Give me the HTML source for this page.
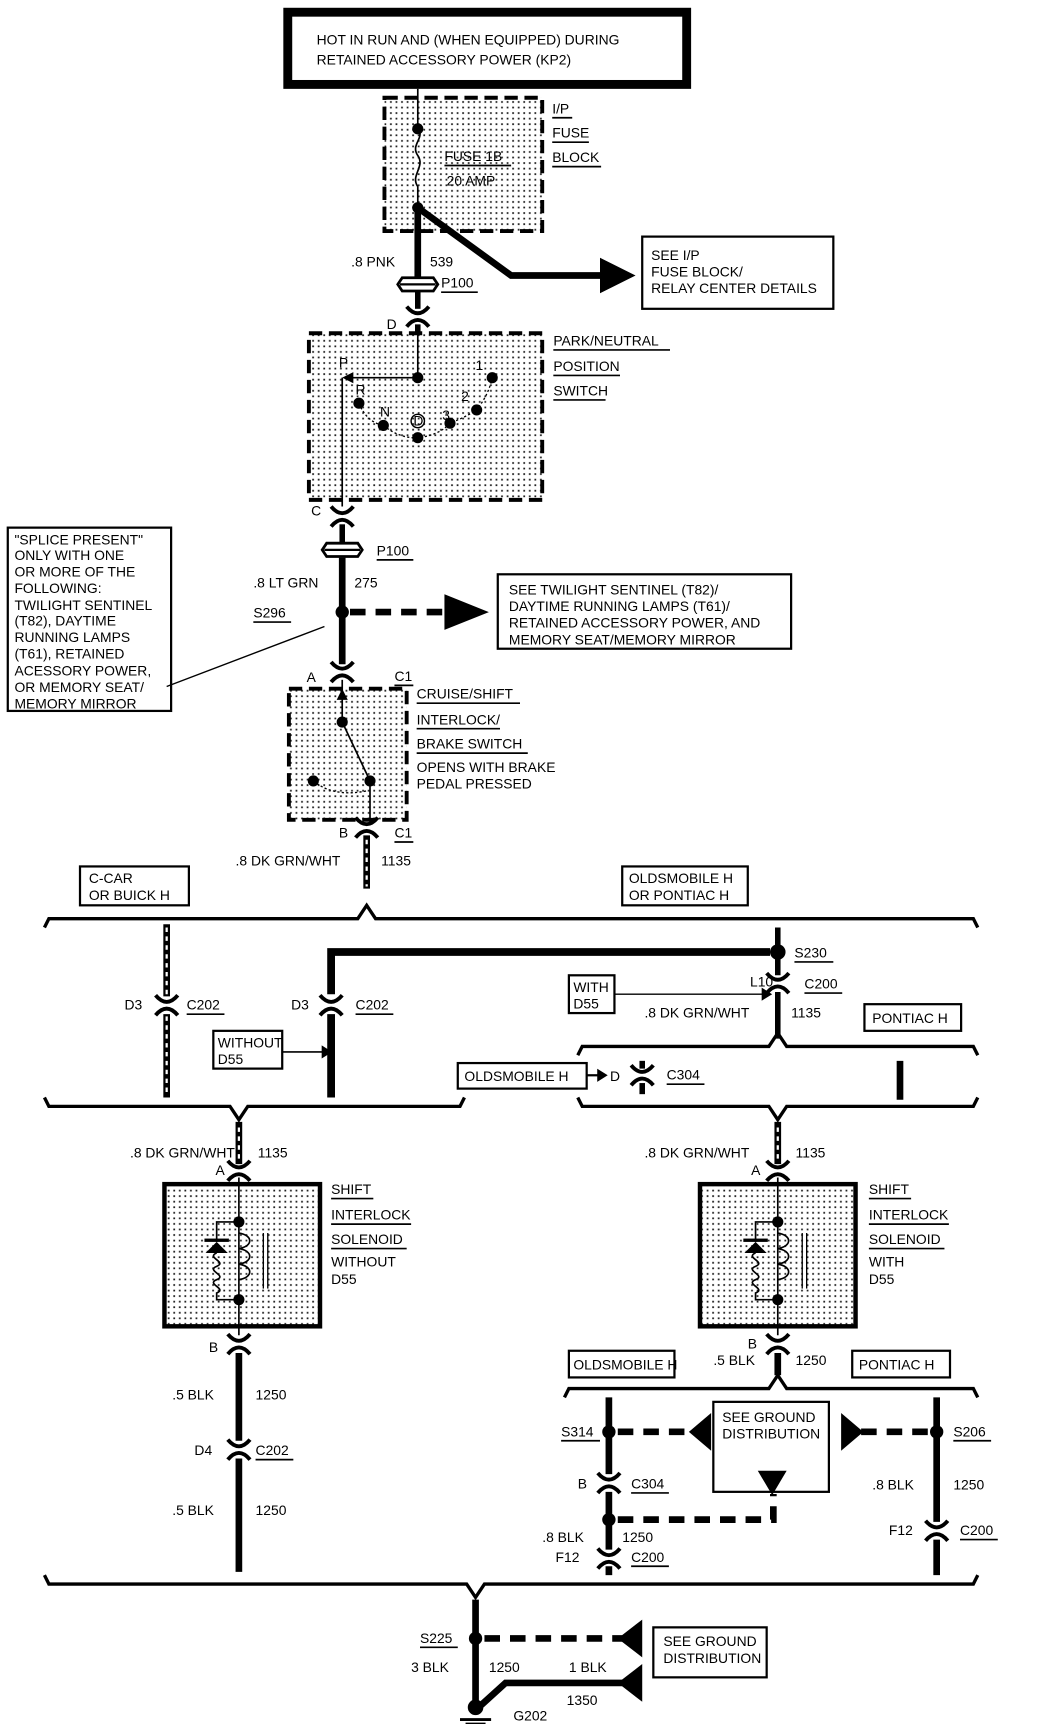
<!DOCTYPE html>
<html><head><meta charset="utf-8"><style>
html,body{margin:0;padding:0;background:#fff}
svg{display:block}
text{font-family:"Liberation Sans",sans-serif;font-size:12.5px;fill:#000}
</style></head><body>
<svg width="1040" height="1724" viewBox="0 0 936 1552" preserveAspectRatio="none" xmlns="http://www.w3.org/2000/svg">
<defs>
<pattern id="st" width="5" height="5" patternUnits="userSpaceOnUse"><rect width="5" height="5" fill="#fff"/><rect x="1" y="1" width="1.6" height="1.6" fill="#222"/></pattern>
<g id="cn"><path d="M-10,-9 Q0,3 10,-9" fill="none" stroke="#000" stroke-width="3.5"/><path d="M-10,9 Q0,-3 10,9" fill="none" stroke="#000" stroke-width="3.5"/></g>
<g id="pc"><path d="M-14,-4 L14,-4 L18,2 L14,8 L-14,8 L-18,2 Z" fill="#fff" stroke="#000" stroke-width="2.5"/><line x1="-16" y1="2" x2="16" y2="2" stroke="#000" stroke-width="2"/></g>
</defs>
<g stroke="#000" fill="none">
<rect x="259" y="11" width="359" height="65" stroke-width="8"/>
<rect x="346" y="88" width="142" height="120" fill="url(#st)" stroke-width="3.5" stroke-dasharray="12,6"/>
<line x1="376" y1="80" x2="376" y2="112" stroke-width="1.5"/>
<path d="M376,116 C383,124 369,130 376,140 C383,150 369,158 376,168 L376,187" stroke-width="1.5"/>
<line x1="376" y1="187" x2="376" y2="252" stroke-width="6"/>
<path d="M376,187 L460,248 L540,248" stroke-width="6"/>
<rect x="578" y="213" width="172" height="65" stroke-width="2"/>
<line x1="376" y1="262" x2="376" y2="278" stroke-width="5"/>
<line x1="376" y1="292" x2="376" y2="300" stroke-width="5"/>
<rect x="278" y="300" width="210" height="150" fill="url(#st)" stroke-width="3.5" stroke-dasharray="12,6"/>
<line x1="376" y1="300" x2="376" y2="340" stroke-width="1.5"/>
<line x1="376" y1="340" x2="312" y2="340" stroke-width="1.5"/>
<line x1="308" y1="340" x2="308" y2="456" stroke-width="1.5"/>
<path d="M323,363 Q330,380 345,383" stroke-width="1.2" stroke-dasharray="2,2"/>
<path d="M345,383 Q360,395 376,394 Q395,392 405,381 Q420,375 429,369 Q440,355 443,340" stroke-width="1.2" stroke-dasharray="2,2"/>
<circle cx="376" cy="379" r="6" stroke-width="1.3"/>
<line x1="308" y1="472" x2="308" y2="490" stroke-width="5"/>
<line x1="308" y1="502" x2="308" y2="598" stroke-width="6"/>
<path d="M315,551 L400,551" stroke-width="6" stroke-dasharray="14,9"/>
<rect x="448" y="517" width="264" height="67" stroke-width="2"/>
<rect x="7" y="475" width="147" height="165" stroke-width="2"/>
<line x1="150" y1="618" x2="292" y2="564" stroke-width="1.3"/>
<rect x="260" y="620" width="106" height="118" fill="url(#st)" stroke-width="3.5" stroke-dasharray="12,6"/>
<line x1="308" y1="612" x2="308" y2="650" stroke-width="1.5"/>
<line x1="308" y1="650" x2="333" y2="703" stroke-width="1.5"/>
<path d="M282,703 Q300,718 330,712" stroke-width="1.2" stroke-dasharray="2,2"/>
<line x1="333" y1="703" x2="333" y2="740" stroke-width="1.5"/>
<line x1="330" y1="752" x2="330" y2="800" stroke-width="6"/>
<line x1="330" y1="756" x2="330" y2="798" stroke="#fff" stroke-width="2" stroke-dasharray="4,4"/>
<rect x="72" y="780" width="98" height="35" stroke-width="2"/>
<rect x="560" y="780" width="113" height="35" stroke-width="2"/>
<path d="M40,835 L44,827 L322,827 L330,815 L338,827 L876,827 L880,835" stroke-width="3"/>
<line x1="150" y1="832" x2="150" y2="897" stroke-width="6"/><line x1="150" y1="913" x2="150" y2="988" stroke-width="6"/>
<line x1="150" y1="835" x2="150" y2="895" stroke="#fff" stroke-width="2" stroke-dasharray="4,4"/>
<line x1="150" y1="915" x2="150" y2="985" stroke="#fff" stroke-width="2" stroke-dasharray="4,4"/>
<path d="M298,895 L298,857 L693,857" stroke-width="7"/>
<line x1="298" y1="913" x2="298" y2="988" stroke-width="7"/>
<rect x="192" y="928" width="62" height="34" stroke-width="2"/>
<line x1="254" y1="947" x2="290" y2="947" stroke-width="1.5"/>
<path d="M290,942 L298,947 L290,952 Z" fill="#000"/>
<line x1="700" y1="835" x2="700" y2="878" stroke-width="5"/>
<line x1="700" y1="893" x2="700" y2="935" stroke-width="5"/>
<rect x="512" y="878" width="41" height="34" stroke-width="2"/>
<line x1="553" y1="895" x2="686" y2="895" stroke-width="1.3"/>
<path d="M686,890 L694,895 L686,900 Z" fill="#000"/>
<rect x="778" y="904" width="87" height="24" stroke-width="2"/>
<path d="M520,950 L524,942 L692,942 L700,930 L708,942 L876,942 L880,950" stroke-width="3"/>
<rect x="412" y="957" width="116" height="23" stroke-width="2"/>
<line x1="528" y1="968" x2="540" y2="968" stroke-width="2"/>
<path d="M538,963 L546,968 L538,973 Z" fill="#000"/>
<line x1="578" y1="955" x2="578" y2="962" stroke-width="5"/>
<line x1="578" y1="975" x2="578" y2="985" stroke-width="5"/>
<line x1="810" y1="955" x2="810" y2="990" stroke-width="6"/>
<path d="M40,988 L44,996 L207,996 L215,1008 L223,996 L414,996 L418,988" stroke-width="3"/>
<path d="M520,988 L524,996 L692,996 L700,1008 L708,996 L876,996 L880,988" stroke-width="3"/>
<line x1="215" y1="1010" x2="215" y2="1048" stroke-width="6"/>
<line x1="215" y1="1015" x2="215" y2="1045" stroke="#fff" stroke-width="2" stroke-dasharray="4,4"/>
<rect x="148" y="1066" width="140" height="128" fill="url(#st)" stroke-width="4"/>
<line x1="215" y1="1060" x2="215" y2="1202" stroke-width="1.5"/>
<path d="M215,1100 L195,1100 L195,1118 M195,1128 C185,1132 205,1136 195,1140 C185,1144 205,1148 195,1152 C185,1156 205,1160 195,1164 L195,1170 L215,1170" stroke-width="1.5"/>
<path d="M215,1110 C228,1112 228,1122 215,1124 C228,1126 228,1136 215,1138 C228,1140 228,1150 215,1152" stroke-width="1.5"/>
<line x1="237" y1="1110" x2="237" y2="1160" stroke-width="1.2"/><line x1="241" y1="1110" x2="241" y2="1160" stroke-width="1.2"/>
<line x1="215" y1="1218" x2="215" y2="1297" stroke-width="6"/>
<line x1="215" y1="1313" x2="215" y2="1415" stroke-width="6"/>
<line x1="700" y1="1010" x2="700" y2="1048" stroke-width="6"/>
<line x1="700" y1="1015" x2="700" y2="1045" stroke="#fff" stroke-width="2" stroke-dasharray="4,4"/>
<rect x="630" y="1066" width="140" height="128" fill="url(#st)" stroke-width="4"/>
<line x1="700" y1="1060" x2="700" y2="1202" stroke-width="1.5"/>
<path d="M700,1100 L680,1100 L680,1118 M680,1128 C670,1132 690,1136 680,1140 C670,1144 690,1148 680,1152 C670,1156 690,1160 680,1164 L680,1170 L700,1170" stroke-width="1.5"/>
<path d="M700,1110 C713,1112 713,1122 700,1124 C713,1126 713,1136 700,1138 C713,1140 713,1150 700,1152" stroke-width="1.5"/>
<line x1="722" y1="1110" x2="722" y2="1160" stroke-width="1.2"/><line x1="726" y1="1110" x2="726" y2="1160" stroke-width="1.2"/>
<line x1="700" y1="1218" x2="700" y2="1238" stroke-width="6"/>
<rect x="512" y="1216" width="95" height="24" stroke-width="2"/>
<rect x="767" y="1216" width="88" height="24" stroke-width="2"/>
<path d="M508,1258 L512,1250 L692,1250 L700,1238 L708,1250 L876,1250 L880,1258" stroke-width="3"/>
<line x1="548" y1="1258" x2="548" y2="1327" stroke-width="6"/>
<line x1="548" y1="1343" x2="548" y2="1395" stroke-width="6"/>
<line x1="548" y1="1410" x2="548" y2="1418" stroke-width="6"/>
<line x1="843" y1="1258" x2="843" y2="1370" stroke-width="6"/>
<line x1="843" y1="1386" x2="843" y2="1418" stroke-width="6"/>
<path d="M556,1289 L620,1289" stroke-width="6" stroke-dasharray="14,9"/>
<path d="M775,1289 L835,1289" stroke-width="6" stroke-dasharray="14,9"/>
<rect x="642" y="1262" width="104" height="81" stroke-width="2"/>
<path d="M556,1368 L696,1368 L696,1345" stroke-width="6" stroke-dasharray="14,9"/>
<path d="M40,1418 L44,1426 L420,1426 L428,1438 L436,1426 L876,1426 L880,1418" stroke-width="3"/>
<line x1="428" y1="1440" x2="428" y2="1540" stroke-width="6"/>
<path d="M436,1475 L560,1475" stroke-width="6" stroke-dasharray="14,9"/>
<path d="M433,1535 L455,1515 L560,1515" stroke-width="6"/>
<rect x="588" y="1465" width="102" height="45" stroke-width="2"/>
<line x1="414" y1="1548" x2="442" y2="1548" stroke-width="2.5"/>
<line x1="419" y1="1552" x2="437" y2="1552" stroke-width="2.5"/>
</g>
<g fill="#000">
<circle cx="376" cy="116" r="5"/><circle cx="376" cy="187" r="5"/>
<path d="M540,232 L572,248 L540,264 Z"/>
<circle cx="376" cy="340" r="5"/><path d="M308,340 L318,335 L318,345 Z"/>
<circle cx="323" cy="363" r="5"/><circle cx="345" cy="383" r="5"/><circle cx="376" cy="394" r="5"/>
<circle cx="405" cy="381" r="5"/><circle cx="429" cy="369" r="5"/><circle cx="443" cy="340" r="5"/>
<circle cx="308" cy="551" r="6"/><path d="M400,535 L440,551 L400,567 Z"/>
<path d="M308,620 L303,630 L313,630 Z"/>
<circle cx="308" cy="650" r="5"/><circle cx="282" cy="703" r="5"/><circle cx="333" cy="703" r="5"/>
<circle cx="700" cy="857" r="7"/>
<circle cx="215" cy="1100" r="5"/><circle cx="215" cy="1170" r="5"/>
<path d="M195,1118 L185,1128 L205,1128 Z"/><rect x="184" y="1115" width="22" height="3"/>
<circle cx="700" cy="1100" r="5"/><circle cx="700" cy="1170" r="5"/>
<path d="M680,1118 L670,1128 L690,1128 Z"/><rect x="669" y="1115" width="22" height="3"/>
<circle cx="548" cy="1289" r="6"/><circle cx="843" cy="1289" r="6"/><circle cx="548" cy="1368" r="6"/>
<path d="M640,1272 L620,1289 L640,1306 Z"/><path d="M757,1272 L777,1289 L757,1306 Z"/>
<path d="M682,1324 L708,1324 L695,1346 Z"/>
<circle cx="428" cy="1475" r="6"/><circle cx="428" cy="1537" r="7"/>
<path d="M578,1458 L556,1475 L578,1492 Z"/><path d="M578,1498 L556,1515 L578,1532 Z"/>
</g>
<use href="#pc" x="376" y="254"/><use href="#pc" x="308" y="493"/>
<use href="#cn" x="376" y="285"/><use href="#cn" x="308" y="465"/>
<use href="#cn" x="308" y="605"/><use href="#cn" x="330" y="745"/>
<use href="#cn" x="150" y="905"/><use href="#cn" x="298" y="905"/>
<use href="#cn" x="700" y="885"/><use href="#cn" x="578" y="968"/>
<use href="#cn" x="215" y="1054"/><use href="#cn" x="215" y="1210"/>
<use href="#cn" x="700" y="1054"/><use href="#cn" x="700" y="1210"/>
<use href="#cn" x="215" y="1305"/><use href="#cn" x="548" y="1335"/>
<use href="#cn" x="548" y="1403"/><use href="#cn" x="843" y="1378"/>
<g>
<text x="285" y="40">HOT IN RUN AND (WHEN EQUIPPED) DURING</text>
<text x="285" y="58">RETAINED ACCESSORY POWER (KP2)</text>
<text x="400" y="145">FUSE 1B</text><text x="402" y="167">20 AMP</text>
<text x="497" y="102">I/P</text><text x="497" y="124">FUSE</text><text x="497" y="146">BLOCK</text>
<text x="586" y="234">SEE I/P</text><text x="586" y="249">FUSE BLOCK/</text><text x="586" y="264">RELAY CENTER DETAILS</text>
<text x="316" y="240">.8 PNK</text><text x="387" y="240">539</text><text x="397" y="259">P100</text>
<text x="348" y="296">D</text>
<text x="498" y="311">PARK/NEUTRAL</text><text x="498" y="334">POSITION</text><text x="498" y="356">SWITCH</text>
<text x="305" y="331" font-size="11">P</text><text x="320" y="355" font-size="11">R</text><text x="342" y="375" font-size="11">N</text>
<text x="372" y="383" font-size="10">D</text><text x="398" y="378" font-size="11">3</text><text x="415" y="361" font-size="11">2</text><text x="428" y="333" font-size="11">1</text>
<text x="280" y="464">C</text><text x="339" y="500">P100</text>
<text x="228" y="529">.8 LT GRN</text><text x="319" y="529">275</text><text x="228" y="556">S296</text>
<text x="458" y="535">SEE TWILIGHT SENTINEL (T82)/</text><text x="458" y="550">DAYTIME RUNNING LAMPS (T61)/</text>
<text x="458" y="565">RETAINED ACCESSORY POWER, AND</text><text x="458" y="580">MEMORY SEAT/MEMORY MIRROR</text>
<text x="13" y="490">"SPLICE PRESENT"</text><text x="13" y="504">ONLY WITH ONE</text><text x="13" y="519">OR MORE OF THE</text>
<text x="13" y="534">FOLLOWING:</text><text x="13" y="549">TWILIGHT SENTINEL</text><text x="13" y="563">(T82), DAYTIME</text>
<text x="13" y="578">RUNNING LAMPS</text><text x="13" y="593">(T61), RETAINED</text><text x="13" y="608">ACESSORY POWER,</text>
<text x="13" y="623">OR MEMORY SEAT/</text><text x="13" y="638">MEMORY MIRROR</text>
<text x="276" y="614">A</text><text x="355" y="613">C1</text>
<text x="375" y="629">CRUISE/SHIFT</text><text x="375" y="652">INTERLOCK/</text><text x="375" y="674">BRAKE SWITCH</text>
<text x="375" y="695">OPENS WITH BRAKE</text><text x="375" y="710">PEDAL PRESSED</text>
<text x="305" y="754">B</text><text x="355" y="754">C1</text>
<text x="212" y="779">.8 DK GRN/WHT</text><text x="343" y="779">1135</text>
<text x="80" y="795">C-CAR</text><text x="80" y="810">OR BUICK H</text>
<text x="566" y="795">OLDSMOBILE H</text><text x="566" y="810">OR PONTIAC H</text>
<text x="715" y="862">S230</text>
<text x="112" y="909">D3</text><text x="168" y="909">C202</text><text x="262" y="909">D3</text><text x="320" y="909">C202</text>
<text x="196" y="943">WITHOUT</text><text x="196" y="958">D55</text>
<text x="516" y="893">WITH</text><text x="516" y="908">D55</text>
<text x="675" y="888">L10</text><text x="724" y="890">C200</text>
<text x="580" y="916">.8 DK GRN/WHT</text><text x="712" y="916">1135</text>
<text x="785" y="921">PONTIAC H</text>
<text x="418" y="973">OLDSMOBILE H</text><text x="549" y="973">D</text><text x="600" y="972">C304</text>
<text x="117" y="1042">.8 DK GRN/WHT</text><text x="232" y="1042">1135</text><text x="194" y="1058">A</text>
<text x="298" y="1075">SHIFT</text><text x="298" y="1098">INTERLOCK</text><text x="298" y="1120">SOLENOID</text><text x="298" y="1140">WITHOUT</text><text x="298" y="1156">D55</text>
<text x="188" y="1217">B</text>
<text x="155" y="1260">.5 BLK</text><text x="230" y="1260">1250</text>
<text x="175" y="1310">D4</text><text x="230" y="1310">C202</text>
<text x="155" y="1364">.5 BLK</text><text x="230" y="1364">1250</text>
<text x="580" y="1042">.8 DK GRN/WHT</text><text x="716" y="1042">1135</text><text x="676" y="1058">A</text>
<text x="782" y="1075">SHIFT</text><text x="782" y="1098">INTERLOCK</text><text x="782" y="1120">SOLENOID</text><text x="782" y="1140">WITH</text><text x="782" y="1156">D55</text>
<text x="673" y="1214">B</text><text x="642" y="1229">.5 BLK</text><text x="716" y="1229">1250</text>
<text x="516" y="1233">OLDSMOBILE H</text><text x="773" y="1233">PONTIAC H</text>
<text x="650" y="1280">SEE GROUND</text><text x="650" y="1295">DISTRIBUTION</text>
<text x="505" y="1293">S314</text><text x="858" y="1293">S206</text>
<text x="520" y="1340">B</text><text x="568" y="1340">C304</text>
<text x="785" y="1341">.8 BLK</text><text x="858" y="1341">1250</text>
<text x="800" y="1382">F12</text><text x="864" y="1382">C200</text>
<text x="488" y="1388">.8 BLK</text><text x="560" y="1388">1250</text>
<text x="500" y="1406">F12</text><text x="568" y="1406">C200</text>
<text x="378" y="1479">S225</text>
<text x="597" y="1482">SEE GROUND</text><text x="597" y="1497">DISTRIBUTION</text>
<text x="370" y="1505">3 BLK</text><text x="440" y="1505">1250</text><text x="512" y="1505">1 BLK</text>
<text x="510" y="1535">1350</text><text x="462" y="1549">G202</text>
</g>
<g stroke="#000" stroke-width="1.5">
<line x1="400" y1="149" x2="460" y2="149"/>
<line x1="497" y1="106" x2="515" y2="106"/><line x1="497" y1="128" x2="530" y2="128"/><line x1="497" y1="150" x2="541" y2="150"/>
<line x1="397" y1="263" x2="430" y2="263"/>
<line x1="498" y1="315" x2="603" y2="315"/><line x1="498" y1="338" x2="558" y2="338"/><line x1="498" y1="360" x2="545" y2="360"/>
<line x1="339" y1="504" x2="372" y2="504"/><line x1="228" y1="560" x2="262" y2="560"/>
<line x1="355" y1="617" x2="372" y2="617"/>
<line x1="375" y1="633" x2="468" y2="633"/><line x1="375" y1="656" x2="450" y2="656"/><line x1="375" y1="678" x2="475" y2="678"/>
<line x1="355" y1="758" x2="372" y2="758"/>
<line x1="715" y1="866" x2="750" y2="866"/><line x1="168" y1="913" x2="202" y2="913"/><line x1="320" y1="913" x2="354" y2="913"/>
<line x1="724" y1="894" x2="758" y2="894"/><line x1="600" y1="976" x2="634" y2="976"/>
<line x1="298" y1="1079" x2="336" y2="1079"/><line x1="298" y1="1102" x2="370" y2="1102"/><line x1="298" y1="1124" x2="366" y2="1124"/>
<line x1="782" y1="1079" x2="820" y2="1079"/><line x1="782" y1="1102" x2="854" y2="1102"/><line x1="782" y1="1124" x2="850" y2="1124"/>
<line x1="230" y1="1314" x2="264" y2="1314"/><line x1="505" y1="1297" x2="540" y2="1297"/><line x1="858" y1="1297" x2="892" y2="1297"/>
<line x1="568" y1="1344" x2="602" y2="1344"/><line x1="864" y1="1386" x2="898" y2="1386"/><line x1="568" y1="1410" x2="602" y2="1410"/>
<line x1="378" y1="1483" x2="412" y2="1483"/><line x1="462" y1="1553" x2="496" y2="1553"/>
</g>
</svg>
</body></html>
